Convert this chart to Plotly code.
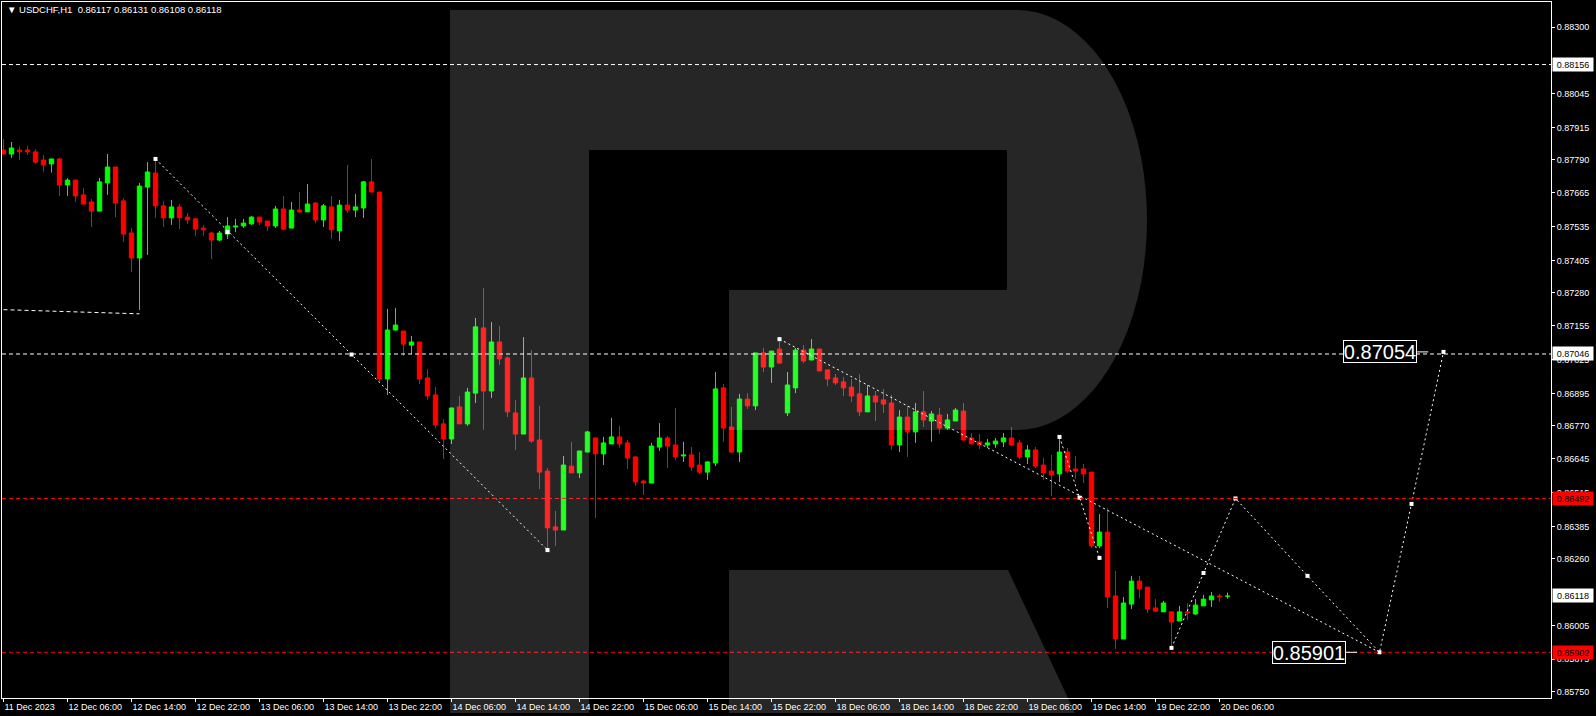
import math
import plotly.graph_objects as go

# ---------------- data ----------------
symbol_title = "\u25BC USDCHF,H1\u00a0\u00a00.86117 0.86131 0.86108 0.86118"

time_labels = ["11 Dec 2023", "12 Dec 06:00", "12 Dec 14:00", "12 Dec 22:00", "13 Dec 06:00",
               "13 Dec 14:00", "13 Dec 22:00", "14 Dec 06:00", "14 Dec 14:00", "14 Dec 22:00",
               "15 Dec 06:00", "15 Dec 14:00", "15 Dec 22:00", "18 Dec 06:00", "18 Dec 14:00",
               "18 Dec 22:00", "19 Dec 06:00", "19 Dec 14:00", "19 Dec 22:00", "20 Dec 06:00"]
bars_per_label = 8

opens = [0.87828, 0.87813, 0.87828, 0.87828, 0.87821, 0.87790, 0.87775, 0.87794, 0.87694, 0.87713,
         0.87656, 0.87629, 0.87594, 0.87702, 0.87763, 0.87633, 0.87510, 0.87414, 0.87686, 0.87740,
         0.87614, 0.87568, 0.87610, 0.87571, 0.87564, 0.87529, 0.87510, 0.87483, 0.87506, 0.87533,
         0.87537, 0.87545, 0.87571, 0.87556, 0.87537, 0.87602, 0.87529, 0.87598, 0.87591, 0.87625,
         0.87560, 0.87610, 0.87518, 0.87617, 0.87598, 0.87606, 0.87706, 0.87667, 0.86950, 0.87138,
         0.87134, 0.87080, 0.87092, 0.86954, 0.86889, 0.86778, 0.86720, 0.86843, 0.86778, 0.86896,
         0.87146, 0.86904, 0.87092, 0.87031, 0.86820, 0.86739, 0.86954, 0.86716, 0.86597, 0.86383,
         0.86371, 0.86616, 0.86590, 0.86670, 0.86724, 0.86663, 0.86701, 0.86728, 0.86705, 0.86651,
         0.86559, 0.86551, 0.86689, 0.86724, 0.86697, 0.86655, 0.86659, 0.86620, 0.86593, 0.86628,
         0.86916, 0.86766, 0.86670, 0.86873, 0.86847, 0.87050, 0.86996, 0.87065, 0.86820, 0.86916,
         0.87061, 0.87023, 0.87065, 0.86985, 0.86954, 0.86939, 0.86919, 0.86893, 0.86824, 0.86885,
         0.86870, 0.86858, 0.86697, 0.86804, 0.86747, 0.86824, 0.86789, 0.86812, 0.86762, 0.86789,
         0.86827, 0.86724, 0.86709, 0.86697, 0.86701, 0.86709, 0.86724, 0.86705, 0.86651, 0.86678,
         0.86620, 0.86597, 0.86586, 0.86670, 0.86605, 0.86605, 0.86593, 0.86310, 0.86363, 0.86118,
         0.85953, 0.86087, 0.86175, 0.86152, 0.86072, 0.86057, 0.86057, 0.86022, 0.86057, 0.86049,
         0.86080, 0.86103, 0.86118, 0.86117]
highs = [0.87870, 0.87859, 0.87841, 0.87844, 0.87831, 0.87809, 0.87794, 0.87798, 0.87721, 0.87713,
         0.87683, 0.87640, 0.87721, 0.87813, 0.87763, 0.87644, 0.87529, 0.87702, 0.87782, 0.87790,
         0.87633, 0.87637, 0.87621, 0.87587, 0.87568, 0.87541, 0.87514, 0.87518, 0.87571, 0.87564,
         0.87564, 0.87575, 0.87571, 0.87556, 0.87614, 0.87652, 0.87629, 0.87667, 0.87698, 0.87629,
         0.87621, 0.87652, 0.87637, 0.87771, 0.87660, 0.87709, 0.87794, 0.87667, 0.87219, 0.87222,
         0.87134, 0.87115, 0.87092, 0.86988, 0.86919, 0.86797, 0.86839, 0.86885, 0.86916, 0.87184,
         0.87299, 0.87169, 0.87153, 0.87038, 0.86870, 0.87111, 0.87061, 0.86847, 0.86609, 0.86444,
         0.86655, 0.86709, 0.86674, 0.86751, 0.86724, 0.86728, 0.86801, 0.86770, 0.86716, 0.86655,
         0.86563, 0.86705, 0.86781, 0.86732, 0.86839, 0.86709, 0.86689, 0.86670, 0.86636, 0.86977,
         0.86931, 0.86843, 0.86893, 0.86896, 0.87050, 0.87069, 0.87057, 0.87103, 0.86977, 0.87069,
         0.87080, 0.87103, 0.87065, 0.86985, 0.86969, 0.86958, 0.86950, 0.86969, 0.86927, 0.86904,
         0.86912, 0.86889, 0.86831, 0.86847, 0.86858, 0.86904, 0.86827, 0.86839, 0.86816, 0.86839,
         0.86858, 0.86743, 0.86739, 0.86720, 0.86724, 0.86743, 0.86766, 0.86716, 0.86697, 0.86689,
         0.86647, 0.86659, 0.86728, 0.86686, 0.86655, 0.86624, 0.86593, 0.86432, 0.86455, 0.86214,
         0.86114, 0.86195, 0.86195, 0.86152, 0.86106, 0.86099, 0.86057, 0.86080, 0.86091, 0.86106,
         0.86122, 0.86133, 0.86126, 0.86131]
lows = [0.87813, 0.87798, 0.87790, 0.87809, 0.87775, 0.87745, 0.87741, 0.87652, 0.87652, 0.87629,
        0.87621, 0.87533, 0.87594, 0.87656, 0.87571, 0.87476, 0.87360, 0.87215, 0.87426, 0.87568,
        0.87533, 0.87541, 0.87525, 0.87545, 0.87499, 0.87499, 0.87410, 0.87479, 0.87487, 0.87514,
        0.87529, 0.87541, 0.87541, 0.87518, 0.87529, 0.87522, 0.87529, 0.87587, 0.87591, 0.87548,
        0.87533, 0.87487, 0.87479, 0.87587, 0.87571, 0.87568, 0.87667, 0.86939, 0.86889, 0.87134,
        0.87038, 0.87046, 0.86931, 0.86870, 0.86762, 0.86643, 0.86701, 0.86778, 0.86770, 0.86858,
        0.86755, 0.86877, 0.87004, 0.86804, 0.86678, 0.86739, 0.86705, 0.86528, 0.86294, 0.86310,
        0.86371, 0.86590, 0.86570, 0.86670, 0.86417, 0.86620, 0.86701, 0.86686, 0.86605, 0.86540,
        0.86505, 0.86551, 0.86674, 0.86609, 0.86639, 0.86632, 0.86597, 0.86586, 0.86563, 0.86616,
        0.86709, 0.86666, 0.86632, 0.86835, 0.86831, 0.86977, 0.86935, 0.87011, 0.86808, 0.86896,
        0.87011, 0.87023, 0.86981, 0.86923, 0.86927, 0.86885, 0.86862, 0.86808, 0.86824, 0.86789,
        0.86820, 0.86678, 0.86670, 0.86651, 0.86705, 0.86766, 0.86709, 0.86739, 0.86755, 0.86789,
        0.86716, 0.86701, 0.86682, 0.86686, 0.86686, 0.86689, 0.86693, 0.86643, 0.86624, 0.86609,
        0.86563, 0.86501, 0.86555, 0.86590, 0.86567, 0.86551, 0.86302, 0.86302, 0.86072, 0.85915,
        0.85953, 0.86068, 0.86110, 0.86053, 0.86057, 0.86057, 0.85911, 0.86022, 0.86026, 0.86045,
        0.86080, 0.86076, 0.86095, 0.86108]
closes = [0.87813, 0.87836, 0.87822, 0.87821, 0.87782, 0.87771, 0.87794, 0.87694, 0.87713, 0.87652,
          0.87621, 0.87594, 0.87706, 0.87763, 0.87625, 0.87506, 0.87414, 0.87690, 0.87744, 0.87614,
          0.87568, 0.87610, 0.87568, 0.87560, 0.87525, 0.87522, 0.87483, 0.87510, 0.87537, 0.87537,
          0.87548, 0.87571, 0.87552, 0.87537, 0.87602, 0.87525, 0.87598, 0.87591, 0.87621, 0.87560,
          0.87614, 0.87522, 0.87617, 0.87598, 0.87610, 0.87706, 0.87667, 0.86950, 0.87138, 0.87157,
          0.87084, 0.87092, 0.86950, 0.86885, 0.86774, 0.86720, 0.86839, 0.86778, 0.86900, 0.87150,
          0.86904, 0.87092, 0.87027, 0.86824, 0.86739, 0.86954, 0.86712, 0.86593, 0.86379, 0.86371,
          0.86620, 0.86590, 0.86674, 0.86747, 0.86663, 0.86705, 0.86728, 0.86701, 0.86647, 0.86555,
          0.86551, 0.86693, 0.86724, 0.86693, 0.86651, 0.86659, 0.86613, 0.86593, 0.86632, 0.86912,
          0.86762, 0.86670, 0.86873, 0.86847, 0.87050, 0.86996, 0.87057, 0.87011, 0.86927, 0.87061,
          0.87019, 0.87065, 0.86981, 0.86950, 0.86935, 0.86916, 0.86885, 0.86824, 0.86885, 0.86862,
          0.86854, 0.86697, 0.86804, 0.86747, 0.86824, 0.86793, 0.86816, 0.86762, 0.86793, 0.86831,
          0.86716, 0.86701, 0.86697, 0.86705, 0.86712, 0.86724, 0.86697, 0.86651, 0.86678, 0.86616,
          0.86590, 0.86582, 0.86670, 0.86597, 0.86597, 0.86586, 0.86310, 0.86363, 0.86114, 0.85953,
          0.86091, 0.86175, 0.86145, 0.86068, 0.86060, 0.86091, 0.86018, 0.86057, 0.86053, 0.86083,
          0.86106, 0.86118, 0.86114, 0.86118]

# axis price labels visible in the reference (those fully hidden behind price boxes omitted)
price_ticks = [0.88300, 0.88045, 0.87915, 0.87790, 0.87665, 0.87535, 0.87405, 0.87280,
               0.87155, 0.87025, 0.86895, 0.86770, 0.86645, 0.86515, 0.86385, 0.86260,
               0.86005, 0.85875, 0.85750]

white_levels = [0.88156, 0.87046]
red_levels = [0.86492, 0.85902]

# hand-drawn analysis lines (bar index, price)
trend_left_x = [0, 17]
trend_left_y = [0.87216, 0.87200]
wave_a_x = [19, 68]
wave_a_y = [0.87794, 0.86294]
wave_a_marks_x = [19, 28, 43.5, 68]
wave_a_marks_y = [0.87794, 0.87514, 0.87044, 0.86294]
wave_b_x = [97, 172]
wave_b_y = [0.87103, 0.85902]
wave_c_x = [132, 134.5, 137]
wave_c_y = [0.86728, 0.86495, 0.86264]
forecast_x = [146, 150, 154, 163, 172, 176, 180]
forecast_y = [0.85919, 0.86206, 0.86492, 0.86195, 0.85902, 0.86471, 0.87054]
target_labels = ["0.87054", "0.85901"]
target_prices = [0.87054, 0.85902]
target_label_bars = [172.1, 163.2]

# ---------------- layout constants ----------------
W, H = 1596, 716
L_M, R_M, T_M, B_M = 2, 45, 2, 18
PW, PH = W - L_M - R_M, H - T_M - B_M
BAR_PX = 8.0
FIRST_PX = 3.5
x_lo = (L_M - FIRST_PX) / BAR_PX
x_hi = x_lo + PW / BAR_PX
y_hi = 0.883959
y_lo = 0.857267

UP = "#00FF00"
DN = "#FF0000"
FONT = "Liberation Sans, Arial, sans-serif"

n = len(opens)
idx = list(range(n))
up_i = [i for i in idx if closes[i] >= opens[i]]
dn_i = [i for i in idx if closes[i] < opens[i]]


def wicks(ids):
    xs, ys = [], []
    for i in ids:
        xs += [i, i, None]
        ys += [lows[i], highs[i], None]
    return xs, ys


fig = go.Figure()

for ids, col in ((up_i, UP), (dn_i, DN)):
    wx, wy = wicks(ids)
    fig.add_trace(go.Scatter(x=wx, y=wy, mode="lines", line=dict(color=col, width=1),
                             hoverinfo="skip", showlegend=False))
for ids, col in ((up_i, UP), (dn_i, DN)):
    fig.add_trace(go.Bar(x=ids,
                         base=[min(opens[i], closes[i]) for i in ids],
                         y=[abs(closes[i] - opens[i]) for i in ids],
                         width=0.55, marker=dict(color=col, line=dict(color=col, width=1)),
                         hoverinfo="skip", showlegend=False))

dot = dict(color="white", width=1, dash="2px,3px")
fig.add_trace(go.Scatter(x=trend_left_x, y=trend_left_y, mode="lines",
                         line=dict(color="white", width=1, dash="4px,3px"),
                         hoverinfo="skip", showlegend=False))
for xs, ys in ((wave_a_x, wave_a_y), (wave_b_x, wave_b_y), (wave_c_x, wave_c_y),
               (forecast_x, forecast_y)):
    fig.add_trace(go.Scatter(x=xs, y=ys, mode="lines", line=dot,
                             hoverinfo="skip", showlegend=False))
mx = wave_a_marks_x + [wave_b_x[0]] + wave_c_x + forecast_x
my = wave_a_marks_y + [wave_b_y[0]] + wave_c_y + forecast_y
fig.add_trace(go.Scatter(x=mx, y=my, mode="markers",
                         marker=dict(symbol="square", size=4, color="white"),
                         hoverinfo="skip", showlegend=False))

shapes = []
for lv in white_levels:
    shapes.append(dict(type="line", xref="paper", x0=0, x1=1, yref="y", y0=lv, y1=lv,
                       line=dict(color="white", width=1, dash="4px,3px"), layer="above"))
for lv in red_levels:
    shapes.append(dict(type="line", xref="paper", x0=0, x1=1, yref="y", y0=lv, y1=lv,
                       line=dict(color=DN, width=1, dash="4px,3px"), layer="above"))

# short connector ticks next to the target labels
for bx, pr in zip(target_label_bars, target_prices):
    shapes.append(dict(type="line", xref="x", yref="y", x0=bx + 4.6, x1=bx + 6.0, y0=pr, y1=pr,
                       line=dict(color="white", width=1)))


# RoboForex-like "R" watermark (pixel geometry -> paper)
def P(x, y):
    return f"{(x - L_M) / PW:.5f},{1 - (y - T_M) / PH:.5f}"


pts = [P(450, 10), P(1017, 10)]
for k in range(1, 40):
    t = -math.pi / 2 + math.pi * k / 40
    pts.append(P(1017 + 130 * math.cos(t), 220 + 210 * math.sin(t)))
pts += [P(1017, 430), P(729, 430), P(729, 290), P(1007, 290), P(1007, 150), P(589, 150),
        P(589, 713), P(450, 713)]
logo_path = "M " + " L ".join(pts) + " Z"
leg_path = "M " + " L ".join([P(729, 570), P(1008, 570), P(1075, 713), P(729, 713)]) + " Z"
for pth in (logo_path, leg_path):
    shapes.append(dict(type="path", xref="paper", yref="paper", path=pth,
                       fillcolor="rgba(255,255,255,0.149)", line=dict(width=0), layer="above"))

annotations = []
ax_x = (1552 - L_M) / PW
box_specs = [(white_levels[0], "white"), (white_levels[1], "white"),
             (red_levels[0], DN), (closes[-1], "white"), (red_levels[1], DN)]
for lv, bg in box_specs:
    annotations.append(dict(xref="paper", yref="y", x=ax_x, y=lv, xanchor="left", yanchor="middle",
                            text=f"{lv:.5f}", showarrow=False, bgcolor=bg, width=38, height=11,
                            borderpad=1, font=dict(family=FONT, size=9, color="black")))
for txt, bx, pr in zip(target_labels, target_label_bars, target_prices):
    annotations.append(dict(xref="x", yref="y", x=bx, y=pr, xanchor="center", yanchor="middle",
                            text=txt, showarrow=False, bgcolor="black", bordercolor="white",
                            borderwidth=1, borderpad=0, width=72, height=21,
                            font=dict(family=FONT, size=20, color="white")))
annotations.append(dict(xref="paper", yref="paper", x=(5 - L_M) / PW, y=1 - (10 - T_M) / PH,
                        xanchor="left", yanchor="middle", text=symbol_title, showarrow=False,
                        bgcolor="black", borderpad=1,
                        font=dict(family=FONT, size=9.5, color="white")))

fig.update_layout(
    width=W, height=H, margin=dict(l=L_M, r=R_M, t=T_M, b=B_M, autoexpand=False),
    paper_bgcolor="black", plot_bgcolor="black", barmode="overlay", showlegend=False,
    shapes=shapes, annotations=annotations, hovermode=False,
    xaxis=dict(range=[x_lo, x_hi], showgrid=False, zeroline=False, showline=True, mirror=True,
               linecolor="white", linewidth=1, ticks="outside", ticklen=3, tickcolor="white",
               tickvals=[k * bars_per_label for k in range(len(time_labels))],
               ticktext=time_labels, ticklabelposition="outside right",
               tickfont=dict(family=FONT, size=9, color="white"), fixedrange=True),
    yaxis=dict(range=[y_lo, y_hi], side="right", showgrid=False, zeroline=False, showline=True,
               mirror=True, linecolor="white", linewidth=1, ticks="outside", ticklen=3,
               tickcolor="white", tickvals=price_ticks, ticktext=[f"{v:.5f}" for v in price_ticks],
               tickfont=dict(family=FONT, size=9, color="white"), fixedrange=True),
)

fig.write_html("out.html", include_plotlyjs=True, config={"displayModeBar": False},
               post_script="document.body.style.margin='0';document.body.style.overflow='hidden';")
